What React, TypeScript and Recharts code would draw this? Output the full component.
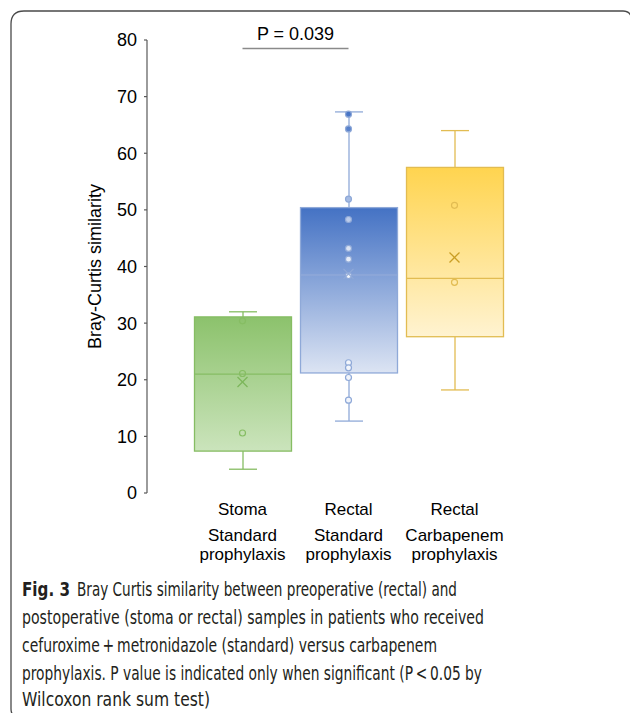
import React from 'react';
import { ComposedChart, Bar, Scatter, XAxis, YAxis, ReferenceLine } from 'recharts';

const groups = ['stomaStandard', 'rectalStandard', 'rectalCarbapenem'];
const groupLabels = [
  ['Stoma', 'Standard', 'prophylaxis'],
  ['Rectal', 'Standard', 'prophylaxis'],
  ['Rectal', 'Carbapenem', 'prophylaxis'],
];
const whiskerLow = [4.2, 12.7, 18.2];
const q1 = [7.4, 21.2, 27.6];
const median = [21.0, 38.5, 37.9];
const q3 = [31.1, 50.4, 57.5];
const whiskerHigh = [32.0, 67.3, 64.0];
const means = [19.6, 38.7, 41.6];
const stomaStandardPoints = [30.4, 21.1, 10.6];
const rectalStandardPoints = [66.9, 64.3, 51.9, 48.3, 43.2, 41.3, 38.4, 23.0, 22.1, 20.4, 16.4];
const rectalCarbapenemPoints = [50.8, 37.2];
const yTicks = [0, 10, 20, 30, 40, 50, 60, 70, 80];
const pValueText = 'P = 0.039';
const pValueLevel = 78.5;
const captionLines = [
  'Bray Curtis similarity between preoperative (rectal) and',
  'postoperative (stoma or rectal) samples in patients who received',
  'cefuroxime\u2009+\u2009metronidazole (standard) versus carbapenem',
  'prophylaxis. P value is indicated only when significant (P\u2009<\u20090.05 by',
  'Wilcoxon rank sum test)',
];

const FONT = "'Liberation Sans', Arial, sans-serif";

const palette = [
  { top: '#8CC26C', bottom: '#CBE4BC', stroke: '#86BD63', mark: '#7DB65A' },
  { top: '#4472C4', bottom: '#DCE4F3', stroke: '#8FA9D8', mark: '#8FA9D8' },
  { top: '#FFD44F', bottom: '#FFF3D1', stroke: '#E2BC52', mark: '#C99E25' },
];

const rows = groups.map((g, i) => ({
  cat: g,
  idx: i,
  box: [q1[i], q3[i]],
  lo: whiskerLow[i],
  q1: q1[i],
  med: median[i],
  q3: q3[i],
  hi: whiskerHigh[i],
}));

const pointSets = [stomaStandardPoints, rectalStandardPoints, rectalCarbapenemPoints].map((pts, i) =>
  pts.map((v) => ({ cat: groups[i], v, idx: i }))
);
const meanData = groups.map((g, i) => ({ cat: g, v: means[i], idx: i }));

const BoxShape = (props: any) => {
  const { x, y, width, height, payload } = props;
  const i = payload.idx;
  const c = palette[i];
  const unit = height / (payload.q3 - payload.q1);
  const yOf = (v: number) => y + (payload.q3 - v) * unit;
  const cx = x + width / 2;
  const capHalf = 14;
  return (
    <g>
      <line x1={cx} x2={cx} y1={yOf(payload.hi)} y2={y} stroke={c.stroke} strokeWidth={1.3} />
      <line x1={cx} x2={cx} y1={y + height} y2={yOf(payload.lo)} stroke={c.stroke} strokeWidth={1.3} />
      <line x1={cx - capHalf} x2={cx + capHalf} y1={yOf(payload.hi)} y2={yOf(payload.hi)} stroke={c.stroke} strokeWidth={1.3} />
      <line x1={cx - capHalf} x2={cx + capHalf} y1={yOf(payload.lo)} y2={yOf(payload.lo)} stroke={c.stroke} strokeWidth={1.3} />
      <rect x={x} y={y} width={width} height={height} fill={`url(#boxGrad${i})`} stroke={c.stroke} strokeWidth={1.3} />
      <line x1={x} x2={x + width} y1={yOf(payload.med)} y2={yOf(payload.med)} stroke={c.stroke} strokeWidth={1.3} />
    </g>
  );
};

const PointShape = (props: any) => {
  const { cx, cy, payload } = props;
  const i = payload.idx;
  const c = palette[i];
  const fill = i === 1 ? 'url(#pointGradBlue)' : 'none';
  return <circle cx={cx} cy={cy} r={3} fill={fill} stroke={c.stroke} strokeWidth={1.2} />;
};

const MeanShape = (props: any) => {
  const { cx, cy, payload } = props;
  const c = palette[payload.idx];
  const s = 5;
  return (
    <g stroke={c.mark} strokeWidth={1.3}>
      <line x1={cx - s} y1={cy - s} x2={cx + s} y2={cy + s} />
      <line x1={cx - s} y1={cy + s} x2={cx + s} y2={cy - s} />
    </g>
  );
};

const CategoryTick = (props: any) => {
  const { x, y, payload } = props;
  const i = groups.indexOf(payload.value);
  const lines = groupLabels[i] || [];
  const offs = [22, 48, 67];
  return (
    <text x={x} y={y} textAnchor="middle" fontFamily={FONT} fontSize={17} fill="#000">
      {lines.map((l, k) => (
        <tspan key={k} x={x} y={y + offs[k]}>{l}</tspan>
      ))}
    </text>
  );
};

const YLabel = (props: any) => {
  const vb = props.viewBox || { x: 67, y: 40, width: 80, height: 453 };
  const lx = vb.x + 28;
  const ly = vb.y + vb.height / 2;
  return (
    <text x={lx} y={ly} transform={`rotate(-90, ${lx}, ${ly})`} textAnchor="middle" dominantBaseline="central" fontFamily={FONT} fontSize={18} fill="#000">
      Bray-Curtis similarity
    </text>
  );
};

export default function App() {
  return (
    <div style={{ position: 'absolute', left: 0, top: 0, width: 630, height: 713, background: '#fff', overflow: 'hidden' }}>
      <svg width={630} height={713} style={{ position: 'absolute', left: 0, top: 0 }}>
        <path d="M 17 716 Q 11 716 11 709 L 11 24 Q 11 11 24 11 L 623 11 Q 629 11 631 16" fill="none" stroke="#4a4a4a" strokeWidth={1.3} />
        <g fontFamily="'DejaVu Sans Condensed', 'Open Sans', sans-serif" fontSize={19.5} fill="#231f20">
          <text x={22} y={596} fontWeight={700} textLength={48} lengthAdjust="spacingAndGlyphs">Fig. 3</text>
          <text x={77} y={596} textLength={380} lengthAdjust="spacingAndGlyphs">{captionLines[0]}</text>
          <text x={22} y={624} textLength={462} lengthAdjust="spacingAndGlyphs">{captionLines[1]}</text>
          <text x={22} y={652} textLength={415} lengthAdjust="spacingAndGlyphs">{captionLines[2]}</text>
          <text x={22} y={680} textLength={460} lengthAdjust="spacingAndGlyphs">{captionLines[3]}</text>
          <text x={22} y={706} textLength={188} lengthAdjust="spacingAndGlyphs">{captionLines[4]}</text>
        </g>
      </svg>
      <div style={{ position: 'absolute', left: 0, top: 0 }}>
        <ComposedChart width={630} height={573} data={rows} margin={{ top: 40, right: 122.5, bottom: 0, left: 67 }}>
          <defs>
            {palette.map((c, i) => (
              <linearGradient key={i} id={`boxGrad${i}`} x1="0" y1="0" x2="0" y2="1">
                <stop offset="0%" stopColor={c.top} />
                <stop offset="100%" stopColor={c.bottom} />
              </linearGradient>
            ))}
            <linearGradient id="pointGradBlue" gradientUnits="userSpaceOnUse" x1="0" y1="110" x2="0" y2="270">
              <stop offset="0%" stopColor="#4472C4" />
              <stop offset="100%" stopColor="#F2F5FB" />
            </linearGradient>
          </defs>
          <XAxis
            dataKey="cat"
            type="category"
            allowDuplicatedCategory={false}
            axisLine={false}
            tickLine={false}
            tickSize={0}
            tickMargin={0}
            height={80}
            padding={{ left: 42.5, right: 0 }}
            tick={<CategoryTick />}
            interval={0}
          />
          <YAxis
            type="number"
            domain={[0, 80]}
            ticks={yTicks}
            width={80}
            tickSize={3}
            tickMargin={7}
            axisLine={{ stroke: '#595959', strokeWidth: 1.2 }}
            tickLine={{ stroke: '#595959', strokeWidth: 1.2 }}
            tick={{ fill: '#000', fontSize: 18, fontFamily: FONT }}
            label={<YLabel />}
          />
          <Bar dataKey="box" barSize={97} shape={<BoxShape />} isAnimationActive={false} />
          {pointSets.map((pts, i) => (
            <Scatter key={i} data={pts} dataKey="v" shape={<PointShape />} isAnimationActive={false} />
          ))}
          <Scatter data={meanData} dataKey="v" shape={<MeanShape />} isAnimationActive={false} />
          <ReferenceLine
            segment={[{ x: groups[0], y: pValueLevel }, { x: groups[1], y: pValueLevel }]}
            stroke="#8a8a8a"
            strokeWidth={1.3}
            ifOverflow="visible"
            label={{ value: pValueText, position: 'top', offset: 8, fill: '#000', fontSize: 18, fontFamily: FONT }}
          />
        </ComposedChart>
      </div>
    </div>
  );
}
